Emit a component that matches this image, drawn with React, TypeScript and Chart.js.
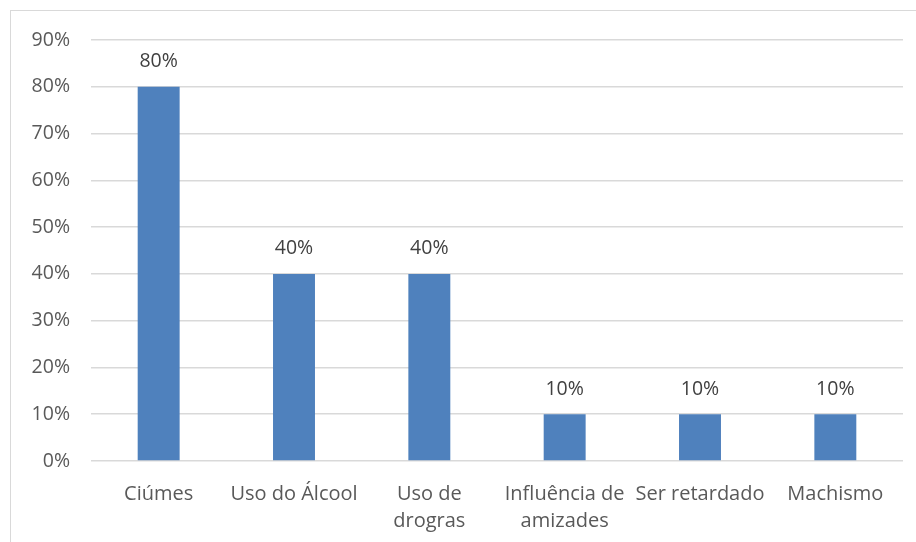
import React, { useEffect, useRef } from "react";
import { Chart, registerables } from "chart.js";

Chart.register(...registerables);

const categories: (string | string[])[] = [
  "Ciúmes",
  "Uso do Álcool",
  ["Uso de", "drogras"],
  ["Influência de", "amizades"],
  "Ser retardado",
  "Machismo",
];
const values = [80, 40, 40, 10, 10, 10];
const yTicks = [0, 10, 20, 30, 40, 50, 60, 70, 80, 90];

const FONT = "'Open Sans', 'Noto Sans', sans-serif";

const labelPlugin = {
  id: "barLabels",
  afterDatasetsDraw(chart: any) {
    const ctx = chart.ctx;
    const meta = chart.getDatasetMeta(0);
    ctx.save();
    ctx.font = `19.5px ${FONT}`;
    ctx.fillStyle = "#404040";
    ctx.textAlign = "center";
    ctx.textBaseline = "middle";
    meta.data.forEach((bar: any, i: number) => {
      ctx.fillText(values[i] + "%", bar.x, bar.y - 25);
    });
    ctx.restore();
  },
};

export default function App() {
  const ref = useRef<HTMLCanvasElement>(null);
  useEffect(() => {
    if (!ref.current) return;
    const chart = new Chart(ref.current, {
      type: "bar",
      data: {
        labels: categories,
        datasets: [
          {
            data: values,
            backgroundColor: "#4F81BD",
            categoryPercentage: 1,
            barPercentage: 0.31,
          },
        ],
      },
      options: {
        animation: false,
        responsive: false,
        maintainAspectRatio: false,
        layout: { padding: { top: 40, right: 13, left: 0, bottom: 0 } },
        plugins: { legend: { display: false }, tooltip: { enabled: false } },
        scales: {
          x: {
            grid: { display: false, drawTicks: false },
            border: { display: false },
            ticks: {
              color: "#595959",
              font: { family: FONT, size: 20, lineHeight: 1.35 },
              padding: 20,
              maxRotation: 0,
              autoSkip: false,
            },
            afterFit(scale: any) {
              scale.height = 81;
            },
          },
          y: {
            min: 0,
            max: 90,
            afterBuildTicks(scale: any) {
              scale.ticks = yTicks.map((v) => ({ value: v }));
            },
            grid: { color: "#D9D9D9", lineWidth: 1.5, drawTicks: false },
            border: { display: false },
            ticks: {
              color: "#595959",
              font: { family: FONT, size: 19.5 },
              padding: 21,
              callback: (v: any) => v + "%",
            },
            afterFit(scale: any) {
              scale.width = 91;
            },
          },
        },
      },
      plugins: [labelPlugin],
    });
    return () => chart.destroy();
  }, []);
  return (
    <div style={{ position: "fixed", left: 0, top: 0, width: 916, height: 542, background: "#fff", overflow: "hidden" }}>
      <div
        style={{
          position: "absolute",
          left: 10,
          top: 10,
          width: 920,
          height: 560,
          border: "1.5px solid #D9D9D9",
          boxSizing: "border-box",
        }}
      />
      <canvas ref={ref} width={916} height={542} style={{ position: "absolute", left: 0, top: 0 }} />
    </div>
  );
}
